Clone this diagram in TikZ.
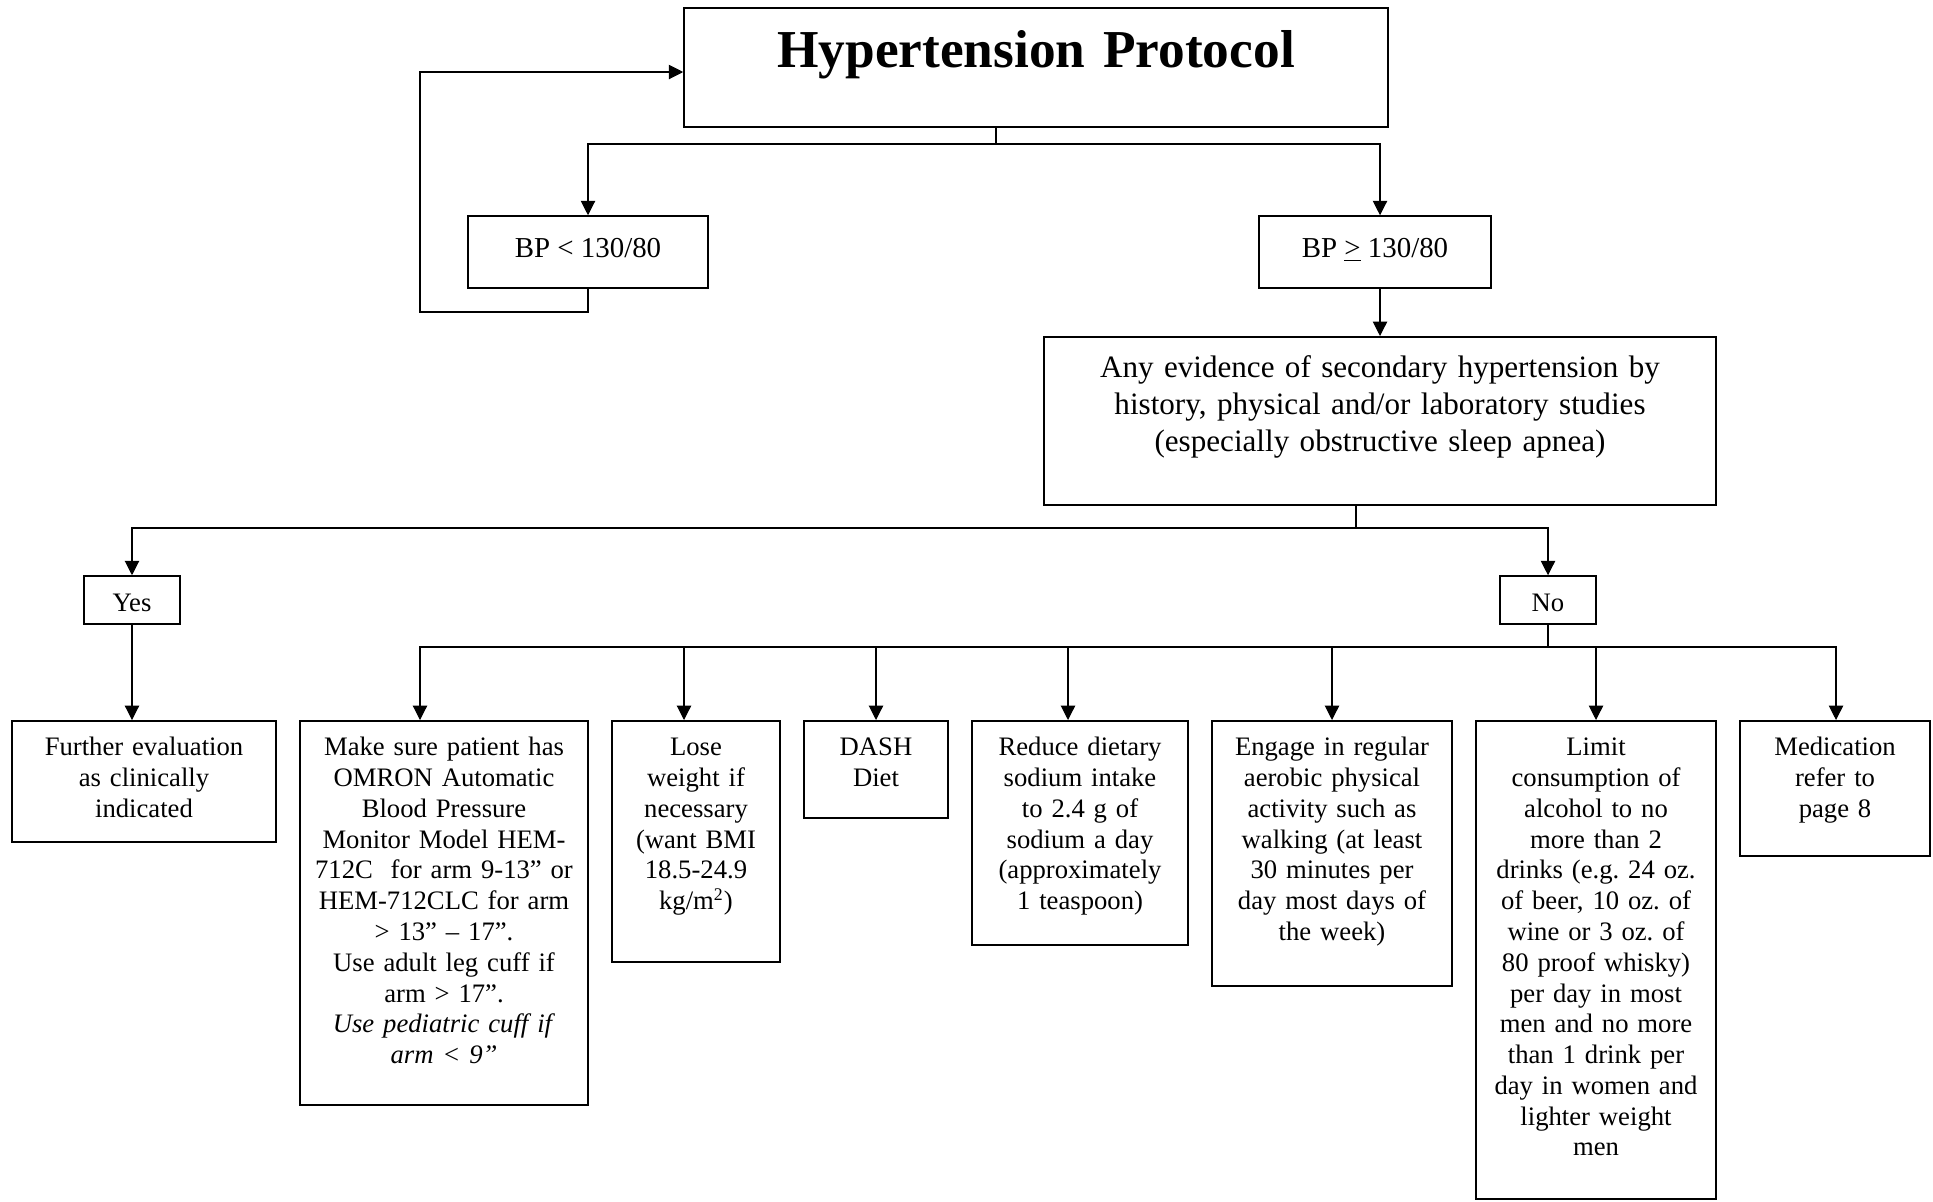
\documentclass[tikz,border=0pt]{standalone}
\usepackage{fontspec}
\setmainfont{Liberation Serif}
\usetikzlibrary{positioning,arrows.meta}
\frenchspacing

\begin{document}
\begin{tikzpicture}[x=0.45pt,y=-0.45pt,
    box/.style={rectangle,draw,line width=0.7pt,anchor=north,align=center,
		inner xsep=0pt,inner ysep=5.75pt,text height=10pt,
		font=\fontsize{12}{13.85}\selectfont},
    choice/.style={rectangle,draw,line width=0.7pt,inner sep=0pt,
		text height=16pt,text depth=5.6pt,
		font=\fontsize{12}{13.85}\selectfont},
    bp/.style={choice,text height=18.45pt,text depth=13.95pt,
		font=\fontsize{13}{15}\selectfont},
% Header style
    header/.style={box,inner ysep=6pt,text height=21pt,
		font=\fontsize{24}{28}\selectfont\bfseries},
    question/.style={box,inner ysep=6.45pt,text height=12pt,
		font=\fontsize{14}{16.5}\selectfont}
    ]
   \useasboundingbox (0,0) rectangle (1933,1201);

   \begin{scope}[line width=0.5pt,>={Triangle[length=6.5pt,width=6.5pt]}]

    % Place nodes
    \node [header,text width=316.8pt,text depth=20.55pt] (protocol) at (1036,7) {Hypertension Protocol};
    \node [bp,minimum width=108pt] (bp_low) at (588,252) {BP < 130/80};
    \node [bp,minimum width=104.4pt] (bp_high) at (1375,252) {BP \underline{>} 130/80};
    \node [question,text width=302.4pt,text depth=50.7pt] (secondary) at (1380,336)
	{Any evidence of secondary hypertension by\\
	 history, physical and/or laboratory studies\\
	 (especially obstructive sleep apnea)};

    \node [choice,minimum width=43.2pt] (yes) at (132,600) {Yes};
    \node [choice,minimum width=43.2pt] (no) at (1548,600) {No};

    \node [box,text width=118.8pt,text depth=32.95pt] (further) at (144,720)
	{Further evaluation\\ as clinically\\ indicated};
    \node [box,text width=129.6pt,text depth=151.3pt] (cuff) at (444,720)
	{Make sure patient has\\ OMRON Automatic\\ Blood Pressure\\ Monitor Model HEM-\\
	 712C\ \ for arm 9-13” or\\ HEM-712CLC for arm\\ > 13” – 17”.\\
	 Use adult leg cuff if\\ arm > 17”.\\
	 \textit{Use pediatric cuff if}\\ \textit{arm < 9”}};
    \node [box,text width=75.6pt,text depth=86.95pt] (weight) at (696,720)
	{Lose\\ weight if\\ necessary\\ (want BMI\\ 18.5-24.9\\ kg/m\textsuperscript{2})};
    \node [box,text width=64.8pt,text depth=22.15pt] (dash) at (876,720) {DASH\\ Diet};
    \node [box,text width=97.2pt,text depth=79.3pt] (sodium) at (1080,720)
	{Reduce dietary\\ sodium intake\\ to 2.4 g of\\ sodium a day\\ (approximately\\ 1 teaspoon)};
    \node [box,text width=108pt,text depth=97.75pt] (activity) at (1332,720)
	{Engage in regular\\ aerobic physical\\ activity such as\\ walking (at least\\
	 30 minutes per\\ day most days of\\ the week)};
    \node [box,text width=108pt,text depth=193.6pt] (alcohol) at (1596,720)
	{Limit\\ consumption of\\ alcohol to no\\ more than 2\\ drinks (e.g. 24 oz.\\
	 of beer, 10 oz. of\\ wine or 3 oz. of\\ 80 proof whisky)\\ per day in most\\
	 men and no more\\ than 1 drink per\\ day in women and\\ lighter weight\\ men};
    \node [box,text width=85.5pt,text depth=39.25pt] (medication) at (1835,720)
	{Medication\\ refer to\\ page 8};

    \coordinate (top_split) at (996,144);
    \coordinate (loop_low) at (420,312);
    \coordinate (loop_high) at (420,72);
    \coordinate (mid_split) at (1356,528);
    \coordinate (low_split) at (1548,647);

    % Draw edges
    \draw (protocol.south -| top_split) -- (top_split);
    \draw [->] (top_split) -| (bp_low);
    \draw [->] (top_split) -| (bp_high.north -| secondary);
    \draw [->] (bp_low) |- (loop_low) -- (loop_high) -- (protocol.west |- loop_high);
    \draw [->] (bp_high.south -| secondary) -- (secondary);

    \draw (secondary.south -| mid_split) -- (mid_split);
    \draw [->] (mid_split) -| (yes);
    \draw [->] (mid_split) -| (no);
    \draw [->] (yes) -- (yes |- further.north);

    \draw (no) -- (low_split);
    \foreach \n/\x in {cuff/420,weight/684,dash/876,sodium/1068,activity/1332,alcohol/1596,medication/1836}
	\draw [->] (low_split) -| (\x,0 |- \n.north);

\end{scope}
\end{tikzpicture}
\end{document}
